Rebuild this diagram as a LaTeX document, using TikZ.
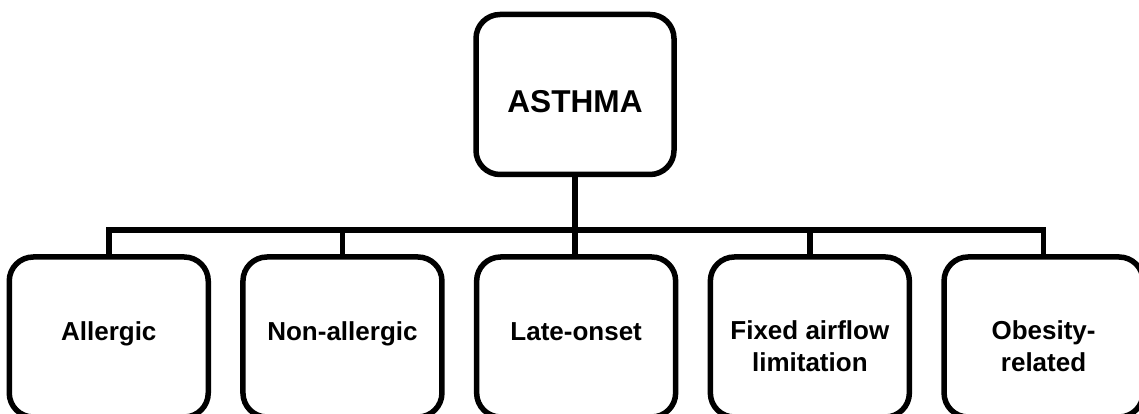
\documentclass[tikz,border=0pt]{standalone}
\usepackage{fontspec}
\setmainfont{Liberation Sans}
\begin{document}
\begin{tikzpicture}[x=1pt,y=1pt,
  box/.style={draw=black, line width=5.5pt, rounded corners=24pt, minimum width=199pt, minimum height=160pt, inner sep=0pt, fill=white},
  topbox/.style={box, minimum width=198pt},
  lbl/.style={font=\fontsize{26}{32}\selectfont\bfseries, align=center, inner sep=0pt, anchor=base},
  toplbl/.style={font=\fontsize{31.6}{38}\selectfont\bfseries, inner sep=0pt, anchor=base},
  conn/.style={draw=black, line width=5.5pt, line join=miter}]
\useasboundingbox (0,0) rectangle (1139,414);
\clip (0,0) rectangle (1139,414);
% boxes
\node[topbox] (asthma) at (575,319.5) {};
\node[box] (allergic) at (108.75,77) {};
\node[box] (nonallergic) at (342.45,77) {};
\node[box] (lateonset) at (576.15,77) {};
\node[box] (fixed) at (809.85,77) {};
\node[box] (obesity) at (1043.55,77) {};
\coordinate (bus) at (0,184);
% connectors
\draw[conn] (allergic.north) |- (obesity.north |- bus) -- (obesity.north);
\draw[conn] (nonallergic.north) -- (nonallergic.north |- bus);
\draw[conn] (fixed.north) -- (fixed.north |- bus);
\draw[conn] (asthma.south) -- (asthma.south |- lateonset.north);
% labels
\node[toplbl] (asthmaT) at ([yshift=-18.2pt]asthma.center) {ASTHMA};
\node[lbl] (allergicT) at ([yshift=-3.5pt]allergic.center) {Allergic};
\node[lbl] (nonallergicT) at ([yshift=-3.5pt]nonallergic.center) {Non-allergic};
\node[lbl] (lateonsetT) at ([yshift=-3.5pt]lateonset.center) {Late-onset};
\node[lbl] (fixedT) at ([yshift=-35pt]fixed.center) {Fixed airflow\\limitation};
\node[lbl] (obesityT) at ([yshift=-35pt]obesity.center) {Obesity-\\related};
\end{tikzpicture}
\end{document}
